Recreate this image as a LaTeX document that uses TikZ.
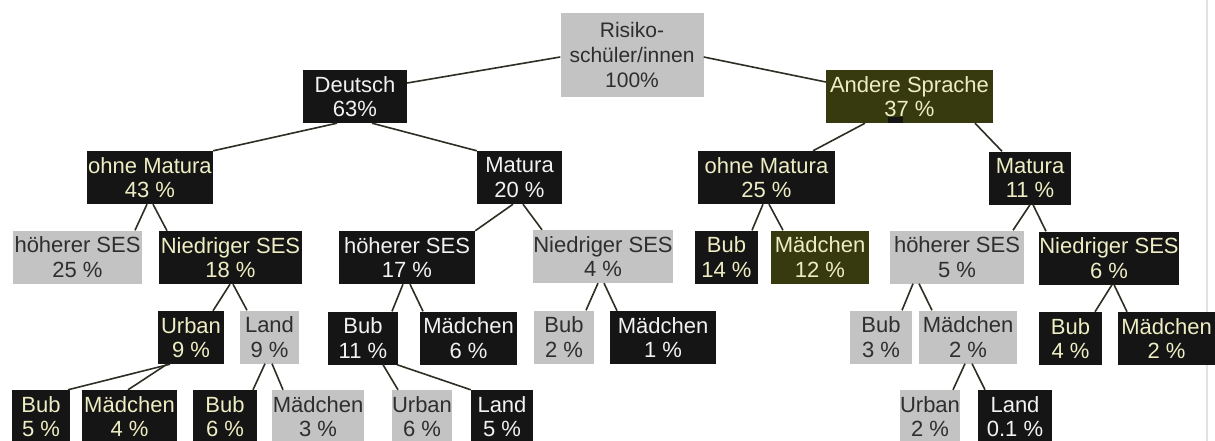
\documentclass[tikz,border=0pt]{standalone}
\usepackage{fontspec}
\setmainfont{Liberation Sans}
\definecolor{boxblack}{HTML}{151515}
\definecolor{boxgray}{HTML}{C3C3C3}
\definecolor{boxolive}{HTML}{363A0E}
\definecolor{cream}{HTML}{EEEDC4}
\definecolor{offwhite}{HTML}{F2F2F2}
\definecolor{graytext}{HTML}{2E2E2E}
\definecolor{linecol}{HTML}{2E2E24}
\definecolor{edgegray}{HTML}{E2E2E2}
\begin{document}
\begin{tikzpicture}[x=1pt,y=-1pt,
  tbox/.style={rectangle, inner sep=0pt, align=center, minimum height=53pt,
    font=\fontsize{22}{24.5}\selectfont},
  blk/.style={tbox, fill=boxblack, text=cream},
  blkw/.style={tbox, fill=boxblack, text=offwhite},
  gry/.style={tbox, fill=boxgray, text=graytext},
  olv/.style={tbox, fill=boxolive, text=cream},
  conn/.style={draw=linecol, line width=1.6pt}]
\clip (0,0) rectangle (1215,441);
\fill[white] (0,0) rectangle (1215,441);
\draw[edgegray, line width=1.5pt] (1207,0) -- (1207,441);

% level 0
\node[gry, minimum width=143pt, minimum height=84pt,
  font=\fontsize{21}{25}\selectfont] (root) at (632,55) {Risiko-\\schüler/innen\\100\%};
% level 1
\node[blkw, minimum width=104pt] (deu) at (355,96.5) {Deutsch\\63\%};
\node[olv, minimum width=167pt] (and) at (909.5,96.5) {Andere Sprache\\37 \%};
\fill[boxblack] (888,117) rectangle (903,123);
% level 2
\node[blk, minimum width=126pt] (omL) at (150,177.5) {ohne Matura\\43 \%};
\node[blkw, minimum width=85pt] (maL) at (519.5,177.5) {Matura\\20 \%};
\node[blk, minimum width=137pt] (omR) at (766.5,177.5) {ohne Matura\\25 \%};
\node[blk, minimum width=82pt] (maR) at (1030,178) {Matura\\11 \%};
% level 3
\node[gry, minimum width=129pt] (hsA) at (77.5,257) {höherer SES\\25 \%};
\node[blk, minimum width=143pt] (nsA) at (230.5,257.5) {Niedriger SES\\18 \%};
\node[blkw, minimum width=136pt] (hsB) at (407,257.5) {höherer SES\\17 \%};
\node[gry, minimum width=140pt] (nsB) at (603,256.5) {Niedriger SES\\4 \%};
\node[blk, minimum width=63pt] (bubC) at (726.5,257) {Bub\\14 \%};
\node[olv, minimum width=98pt] (maeC) at (820,257) {Mädchen\\12 \%};
\node[gry, minimum width=134pt] (hsD) at (957,257) {höherer SES\\5 \%};
\node[blk, minimum width=140pt] (nsD) at (1109,258) {Niedriger SES\\6 \%};
% level 4
\node[blk, minimum width=66pt] (urbA) at (191,337.5) {Urban\\9 \%};
\node[gry, minimum width=59pt] (lanA) at (269.5,337) {Land\\9 \%};
\node[blkw, minimum width=70pt] (bubB) at (363,338) {Bub\\11 \%};
\node[blkw, minimum width=97pt] (maeB) at (468.5,338) {Mädchen\\6 \%};
\node[gry, minimum width=60pt] (bubE) at (564,337) {Bub\\2 \%};
\node[blkw, minimum width=106pt] (maeE) at (663,337.5) {Mädchen\\1 \%};
\node[gry, minimum width=62pt] (bubF) at (881,337) {Bub\\3 \%};
\node[gry, minimum width=98pt] (maeF) at (968,337) {Mädchen\\2 \%};
\node[blk, minimum width=63pt] (bubG) at (1070.5,338.5) {Bub\\4 \%};
\node[blk, minimum width=97pt] (maeG) at (1166.5,338.5) {Mädchen\\2 \%};
% level 5 (cut by the lower edge, as in the reference)
\node[blk, minimum width=58pt] (bubH) at (41,416.5) {Bub\\5 \%};
\node[blk, minimum width=95pt] (maeH) at (129.5,416.5) {Mädchen\\4 \%};
\node[blk, minimum width=64pt] (bubI) at (225,416.5) {Bub\\6 \%};
\node[gry, minimum width=92pt] (maeI) at (318,416.5) {Mädchen\\3 \%};
\node[gry, minimum width=60pt] (urbJ) at (422,416.5) {Urban\\6 \%};
\node[blkw, minimum width=62pt] (lanJ) at (502,416.5) {Land\\5 \%};
\node[gry, minimum width=60pt] (urbK) at (930,416.5) {Urban\\2 \%};
\node[blkw, minimum width=74pt] (lanK) at (1015,416.5) {Land\\0.1 \%};

% connectors
\draw[conn] ([yshift=-2pt]root.west) -- ([yshift=13.5pt]deu.east);
\draw[conn] ([yshift=-2pt]root.east) -- ([yshift=14.5pt]and.west);
\draw[conn] ([xshift=-18pt]deu.south) -- (omL.north east);
\draw[conn] ([xshift=17pt]deu.south) -- (maL.north west);
\draw[conn] ([xshift=-44.5pt]and.south) -- ([xshift=46.5pt]omR.north);
\draw[conn] ([xshift=65.5pt]and.south) -- ([xshift=-28pt]maR.north);
\draw[conn] ([xshift=-3pt]omL.south) -- ([xshift=57.5pt]hsA.north);
\draw[conn] ([xshift=3pt]omL.south) -- ([xshift=-63.5pt]nsA.north);
\draw[conn] ([xshift=-6.5pt]maL.south) -- (hsB.north east);
\draw[conn] ([xshift=3.5pt]maL.south) -- ([xshift=-61pt]nsB.north);
\draw[conn] ([xshift=-3.5pt]omR.south) -- ([xshift=25.5pt]bubC.north);
\draw[conn] ([xshift=2.5pt]omR.south) -- ([xshift=-37pt]maeC.north);
\draw[conn] (maR.south) -- ([xshift=56pt]hsD.north);
\draw[conn] ([xshift=3pt]maR.south) -- ([xshift=-63pt]nsD.north);
\draw[conn] ([xshift=-0.5pt]nsA.south) -- ([xshift=22pt]urbA.north);
\draw[conn] ([xshift=2.5pt]nsA.south) -- ([xshift=-22.5pt]lanA.north);
\draw[conn] ([xshift=-4pt]hsB.south) -- ([xshift=29pt]bubB.north);
\draw[conn] ([xshift=3pt]hsB.south) -- ([xshift=-45.5pt]maeB.north);
\draw[conn] ([xshift=-5pt]nsB.south) -- ([xshift=22pt]bubE.north);
\draw[conn] ([xshift=1pt]nsB.south) -- ([xshift=-46pt]maeE.north);
\draw[conn] ([xshift=-44pt]hsD.south) -- ([xshift=21pt]bubF.north);
\draw[conn] ([xshift=-38pt]hsD.south) -- ([xshift=-36pt]maeF.north);
\draw[conn] ([xshift=3pt]nsD.south) -- ([xshift=24.5pt]bubG.north);
\draw[conn] ([xshift=5pt]nsD.south) -- ([xshift=-39.5pt]maeG.north);
\draw[conn] ([xshift=-21pt]urbA.south) -- ([xshift=27pt]bubH.north);
\draw[conn] ([xshift=-24pt]urbA.south) -- ([xshift=-1.5pt]maeH.north);
\draw[conn] ([xshift=-4.5pt]lanA.south) -- ([xshift=28pt]bubI.north);
\draw[conn] ([xshift=2.5pt]lanA.south) -- ([xshift=-35pt]maeI.north);
\draw[conn] ([xshift=20pt]bubB.south) -- ([xshift=-24pt]urbJ.north);
\draw[conn] ([xshift=34pt]bubB.south) -- (lanJ.north west);
\draw[conn] ([xshift=-3pt]maeF.south) -- ([xshift=23pt]urbK.north);
\draw[conn] ([xshift=4pt]maeF.south) -- ([xshift=-30pt]lanK.north);
\end{tikzpicture}
\end{document}
